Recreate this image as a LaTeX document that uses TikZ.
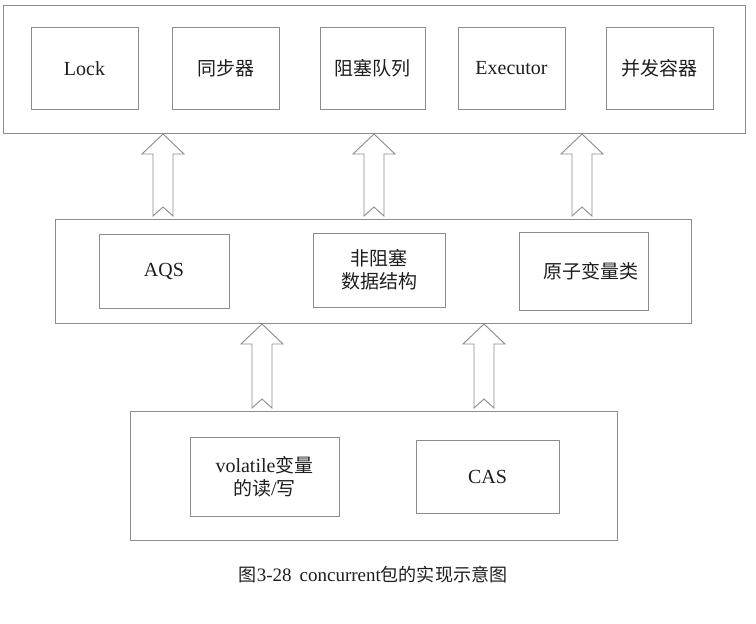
\documentclass[tikz,border=0pt]{standalone}
\usepackage{fontspec}
\setmainfont{Liberation Serif}
\newfontfamily\cjk[Scale=0.95]{Noto Sans CJK SC}
\usetikzlibrary{calc}
\definecolor{linegray}{HTML}{8C8C8C}
\definecolor{textgray}{HTML}{1E1E1E}
\tikzset{
  outerbox/.style={draw=linegray, line width=0.9pt},
  innerbox/.style={draw=linegray, line width=0.9pt, align=center, text=textgray,
    font=\fontsize{20}{23}\selectfont},
  blk/.style={draw=linegray, line width=0.9pt, fill=white, line join=miter},
}
% block arrow from coordinate #1 (bottom) up to coordinate #2 (top)
\newcommand\blockarrow[2]{%
  \draw[blk] let \p1=(#1), \p2=(#2) in
    (\x1-10pt,\y1+3pt) -- (\x1-10pt,\y2-21pt) -- (\x1-21pt,\y2-21pt)
    -- (\x1,\y2-1pt) -- (\x1+21pt,\y2-21pt) -- (\x1+10pt,\y2-21pt)
    -- (\x1+10pt,\y1+3pt) -- (\x1,\y1+12pt) -- cycle;}
\begin{document}
\begin{tikzpicture}[x=1pt,y=-1pt]
\useasboundingbox (0,0) rectangle (756,624);
% top layer
\draw[outerbox] (3,5) rectangle (745,133);
\path (3,133) coordinate (topS);
\node[innerbox, minimum width=107pt, minimum height=82pt] (lock) at (84.5,68.5) {Lock};
\node[innerbox, minimum width=107pt, minimum height=82pt] (sync) at (225.5,68.5) {\cjk 同步器};
\node[innerbox, minimum width=105pt, minimum height=82pt] (bq) at (372.5,68.5) {\cjk 阻塞队列};
\node[innerbox, minimum width=107pt, minimum height=82pt] (exec) at (511.5,68.5) {Executor};
\node[innerbox, minimum width=107pt, minimum height=82pt] (cc) at (659.5,68.5) {\cjk 并发容器};
% middle layer
\draw[outerbox] (55,219) rectangle (691,323);
\path (55,219) coordinate (midN) (55,323) coordinate (midS);
\node[innerbox, minimum width=130pt, minimum height=74pt] (aqs) at (164,271) {AQS};
\node[innerbox, minimum width=132pt, minimum height=74pt] (nb) at (379,270) {\cjk 非阻塞\\\cjk 数据结构};
\node[innerbox, minimum width=129pt, minimum height=78pt] (atom) at (583.5,271) {\hspace*{14pt}\cjk 原子变量类};
% bottom layer
\draw[outerbox] (130,411) rectangle (617,540);
\path (130,411) coordinate (botN);
\node[innerbox, minimum width=149pt, minimum height=79pt] (vol) at (264.5,476.5) {volatile{\cjk 变量}\\{\cjk 的读}/{\cjk 写}};
\node[innerbox, minimum width=143pt, minimum height=73pt] (cas) at (487.5,476.5) {CAS};
% block arrows
\path (163,0) coordinate (x1) (374,0) coordinate (x2) (582,0) coordinate (x3)
      (262,0) coordinate (x4) (484,0) coordinate (x5);
\path (midN -| x1) coordinate (a1b) (topS -| x1) coordinate (a1t);
\path (midN -| x2) coordinate (a2b) (topS -| x2) coordinate (a2t);
\path (midN -| x3) coordinate (a3b) (topS -| x3) coordinate (a3t);
\path (botN -| x4) coordinate (a4b) (midS -| x4) coordinate (a4t);
\path (botN -| x5) coordinate (a5b) (midS -| x5) coordinate (a5t);
\blockarrow{a1b}{a1t}
\blockarrow{a2b}{a2t}
\blockarrow{a3b}{a3t}
\blockarrow{a4b}{a4t}
\blockarrow{a5b}{a5t}
% caption
\node[text=textgray, font=\fontsize{19}{21}\selectfont, inner sep=0pt] (cap) at (373,575)
  {{\cjk 图}3-28\hspace{8pt}concurrent{\cjk 包的实现示意图}};
\end{tikzpicture}
\end{document}
